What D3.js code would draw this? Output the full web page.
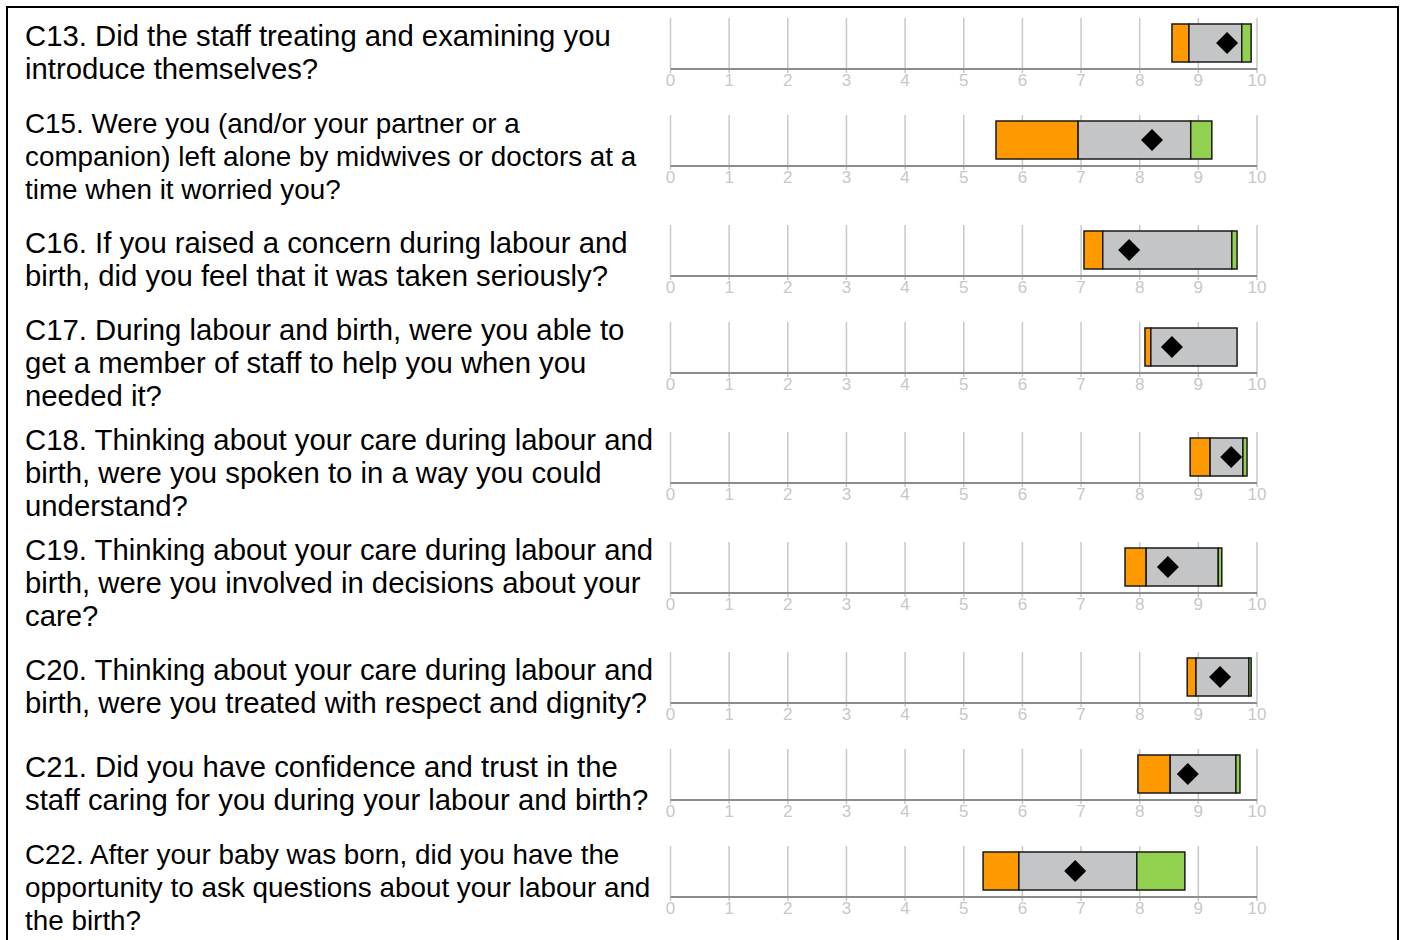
<!DOCTYPE html>
<html>
<head>
<meta charset="utf-8">
<title>Labour and birth questions</title>
<script src="https://d3js.org/d3.v7.min.js"></script>
<style>
  body { margin: 0; background: #fff; }
  svg text { font-family: "Liberation Sans", Arial, sans-serif; }
</style>
</head>
<body>
<svg id="chart" width="1401" height="940"></svg>
<script>
// question text, already broken into lines as in the report
var questions = [
  ["C13. Did the staff treating and examining you", "introduce themselves?"],
  ["C15. Were you (and/or your partner or a", "companion) left alone by midwives or doctors at a", "time when it worried you?"],
  ["C16. If you raised a concern during labour and", "birth, did you feel that it was taken seriously?"],
  ["C17. During labour and birth, were you able to", "get a member of staff to help you when you", "needed it?"],
  ["C18. Thinking about your care during labour and", "birth, were you spoken to in a way you could", "understand?"],
  ["C19. Thinking about your care during labour and", "birth, were you involved in decisions about your", "care?"],
  ["C20. Thinking about your care during labour and", "birth, were you treated with respect and dignity?"],
  ["C21. Did you have confidence and trust in the", "staff caring for you during your labour and birth?"],
  ["C22. After your baby was born, did you have the", "opportunity to ask questions about your labour and", "the birth?"]
];

// band edges: lowest score, lower threshold, upper threshold, highest score
var bandMin   = [8.55, 5.55, 7.05, 8.09, 8.86, 7.75, 8.81, 7.97, 5.33];
var lowerCut  = [8.84, 6.95, 7.37, 8.19, 9.20, 8.11, 8.96, 8.52, 5.94];
var upperCut  = [9.74, 8.87, 9.57, 9.66, 9.76, 9.34, 9.86, 9.64, 7.95];
var bandMax   = [9.90, 9.23, 9.66, 9.66, 9.83, 9.40, 9.90, 9.71, 8.77];
var trustScore = [9.49, 8.21, 7.82, 8.55, 9.56, 8.48, 9.37, 8.82, 6.90];

var ticks = [0, 1, 2, 3, 4, 5, 6, 7, 8, 9, 10];

var svg = d3.select("#chart");

// outer frame
svg.append("rect")
  .attr("x", 7).attr("y", 7)
  .attr("width", 1391).attr("height", 945)
  .attr("fill", "none").attr("stroke", "#000").attr("stroke-width", 2);

var x = d3.scaleLinear().domain([0, 10]).range([670.5, 1257]);

var base = 69;
questions.forEach(function(lines, i) {
  var three = lines.length === 3;
  var g = svg.append("g").attr("transform", "translate(0," + base + ")");

  // question text, shrunk a little when a line runs into the axis
  var firstLine = three ? -43 : -33;
  var txt = g.selectAll(".q").data(lines).enter().append("text")
    .attr("x", 25).attr("y", (t, j) => firstLine + j * 33)
    .attr("dy", "0.35em")
    .attr("font-size", 29.3)
    .attr("fill", "#000")
    .text(t => t);
  var widest = d3.max(txt.nodes(), n => n.getComputedTextLength());
  if (widest > 635) txt.attr("font-size", 27.85);

  // grid lines
  g.selectAll(".grid").data(ticks).enter().append("line")
    .attr("x1", d => x(d)).attr("x2", d => x(d))
    .attr("y1", -51).attr("y2", 4)
    .attr("stroke", "#c8c8c8").attr("stroke-width", 1.5);

  // axis line
  g.append("line")
    .attr("x1", x(0)).attr("x2", x(10))
    .attr("y1", 0).attr("y2", 0)
    .attr("stroke", "#8c8c8c").attr("stroke-width", 2);

  g.selectAll(".tick").data(ticks).enter().append("text")
    .attr("x", d => x(d)).attr("y", 11)
    .attr("dy", "0.35em")
    .attr("text-anchor", "middle")
    .attr("font-size", 17)
    .attr("fill", "#c8c8c8")
    .text(d => d);

  // bands
  var bands = [
    [bandMin[i], lowerCut[i], "#ff9900"],
    [lowerCut[i], upperCut[i], "#c4c5c6"],
    [upperCut[i], bandMax[i], "#92d050"]
  ];
  g.selectAll(".band").data(bands.filter(b => b[1] > b[0])).enter().append("rect")
    .attr("x", d => x(d[0]))
    .attr("width", d => x(d[1]) - x(d[0]))
    .attr("y", -45).attr("height", 38)
    .attr("fill", d => d[2])
    .attr("stroke", "#1a1a1a").attr("stroke-width", 1.5);

  // score diamond
  g.append("path")
    .attr("d", "M0,-11L11,0L0,11L-11,0Z")
    .attr("transform", "translate(" + x(trustScore[i]) + "," + (-26) + ")")
    .attr("fill", "#000");

  base += three ? 110 : 97;
});
</script>
</body>
</html>
